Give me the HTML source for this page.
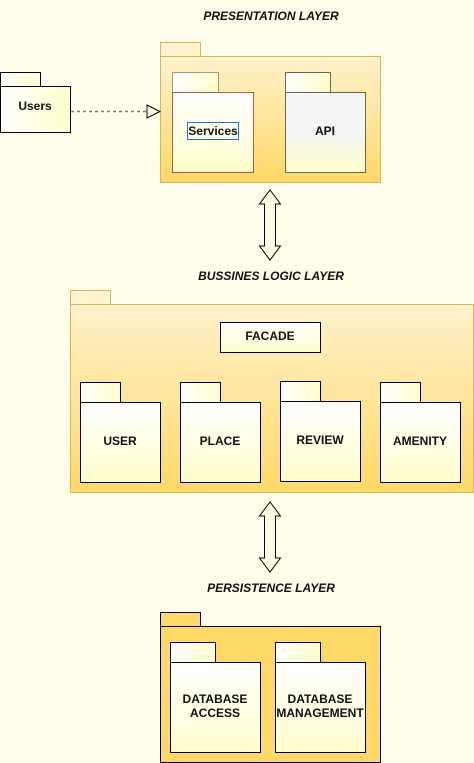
<!DOCTYPE html>
<html><head><meta charset="utf-8"><style>
html,body{margin:0;padding:0;background:#fffeeb;}
svg{display:block;}
text{font-family:"Liberation Sans",Arial,sans-serif;font-weight:bold;font-size:12px;fill:#111;}
.l{font-style:italic;}
</style></head><body>
<svg width="474" height="763" viewBox="0 0 474 763" xmlns="http://www.w3.org/2000/svg">
<defs>
<linearGradient id="gy" x1="0" y1="0" x2="0" y2="1"><stop offset="0" stop-color="#fff2cc"/><stop offset="1" stop-color="#ffd966"/></linearGradient>
<linearGradient id="gw" x1="0" y1="0" x2="0" y2="1"><stop offset="0" stop-color="#ffffff"/><stop offset="1" stop-color="#ffffcc"/></linearGradient>
<linearGradient id="gh" x1="0" y1="0" x2="1" y2="0"><stop offset="0" stop-color="#ffffff"/><stop offset="1" stop-color="#ffffcc"/></linearGradient>
<linearGradient id="gg" x1="0" y1="0" x2="0" y2="1"><stop offset="0" stop-color="#f5f5f5"/><stop offset="0.5" stop-color="#f5f5f5"/><stop offset="1" stop-color="#ffffcc"/></linearGradient>
</defs>
<rect width="474" height="763" fill="#fffeeb"/>

<text class="l" x="271" y="20" text-anchor="middle">PRESENTATION LAYER</text>
<text class="l" x="271" y="280" text-anchor="middle">BUSSINES LOGIC LAYER</text>
<text class="l" x="271" y="592" text-anchor="middle">PERSISTENCE LAYER</text>

<!-- Presentation -->
<rect x="160.5" y="42.5" width="40" height="14" fill="#fff2cc" stroke="#d6b656"/>
<rect x="160.5" y="56.5" width="220" height="126" fill="url(#gy)" stroke="#d6b656"/>
<rect x="172.5" y="72.5" width="46" height="20" fill="url(#gh)" stroke="#999"/>
<rect x="172.5" y="92.5" width="81" height="80" fill="url(#gw)" stroke="#b85450"/>
<rect x="187.5" y="122.5" width="51" height="17" fill="none" stroke="#1a73e8"/>
<text x="213" y="135" text-anchor="middle">Services</text>
<rect x="285.5" y="72.5" width="45" height="20" fill="url(#gh)" stroke="#666"/>
<rect x="285.5" y="92.5" width="80" height="80" fill="url(#gg)" stroke="#666"/>
<text x="325" y="135" text-anchor="middle">API</text>

<!-- Users -->
<rect x="0.5" y="72.5" width="40" height="14" fill="url(#gh)" stroke="#000"/>
<rect x="0.5" y="86.5" width="70" height="46" fill="url(#gh)" stroke="#000"/>
<text x="35" y="110" text-anchor="middle">Users</text>
<line x1="71" y1="111.5" x2="147" y2="111.5" stroke="#777" stroke-width="1.5" stroke-dasharray="3,3"/>
<path d="M147,105 L160,111.5 L147,118 Z" fill="#fffeeb" stroke="#000"/>

<!-- arrows -->
<path d="M270,190 L280.5,204 L275.5,204 L275.5,246 L280.5,246 L270,260 L259.5,246 L264.5,246 L264.5,204 L259.5,204 Z" fill="#ffffe0" stroke="#000"/>
<path d="M270,502 L280.5,516 L275.5,516 L275.5,558 L280.5,558 L270,572 L259.5,558 L264.5,558 L264.5,516 L259.5,516 Z" fill="#ffffe0" stroke="#000"/>

<!-- Business -->
<rect x="70.5" y="290.5" width="40" height="14" fill="#fff2cc" stroke="#d6b656"/>
<rect x="70.5" y="304.5" width="403" height="188" fill="url(#gy)" stroke="#d6b656"/>
<rect x="220.5" y="322.5" width="100" height="30" fill="url(#gw)" stroke="#000"/>
<text x="270" y="340" text-anchor="middle">FACADE</text>
<g stroke="#000">
<rect x="80.5" y="382.5" width="40" height="20" fill="url(#gh)"/><rect x="80.5" y="402.5" width="80" height="80" fill="url(#gw)"/>
<rect x="180.5" y="382.5" width="40" height="20" fill="url(#gh)"/><rect x="180.5" y="402.5" width="80" height="80" fill="url(#gw)"/>
<rect x="280.5" y="381.5" width="40" height="20" fill="url(#gh)"/><rect x="280.5" y="401.5" width="80" height="80" fill="url(#gw)"/>
<rect x="380.5" y="382.5" width="40" height="20" fill="url(#gh)"/><rect x="380.5" y="402.5" width="80" height="80" fill="url(#gw)"/>
</g>
<text x="120" y="445" text-anchor="middle">USER</text>
<text x="220" y="445" text-anchor="middle">PLACE</text>
<text x="320" y="444" text-anchor="middle">REVIEW</text>
<text x="420" y="445" text-anchor="middle">AMENITY</text>

<!-- Persistence -->
<rect x="160.5" y="612.5" width="40" height="14" fill="#ffd966" stroke="#000"/>
<rect x="160.5" y="626.5" width="220" height="136" fill="#ffd966" stroke="#000"/>
<g stroke="#000">
<rect x="170.5" y="642.5" width="45" height="20" fill="url(#gh)"/><rect x="170.5" y="662.5" width="90" height="90" fill="url(#gw)"/>
<rect x="275.5" y="642.5" width="45" height="20" fill="url(#gh)"/><rect x="275.5" y="662.5" width="90" height="90" fill="url(#gw)"/>
</g>
<text x="215" y="703" text-anchor="middle">DATABASE</text>
<text x="215" y="717" text-anchor="middle">ACCESS</text>
<text x="320" y="703" text-anchor="middle">DATABASE</text>
<text x="320" y="717" text-anchor="middle">MANAGEMENT</text>
</svg>
</body></html>
